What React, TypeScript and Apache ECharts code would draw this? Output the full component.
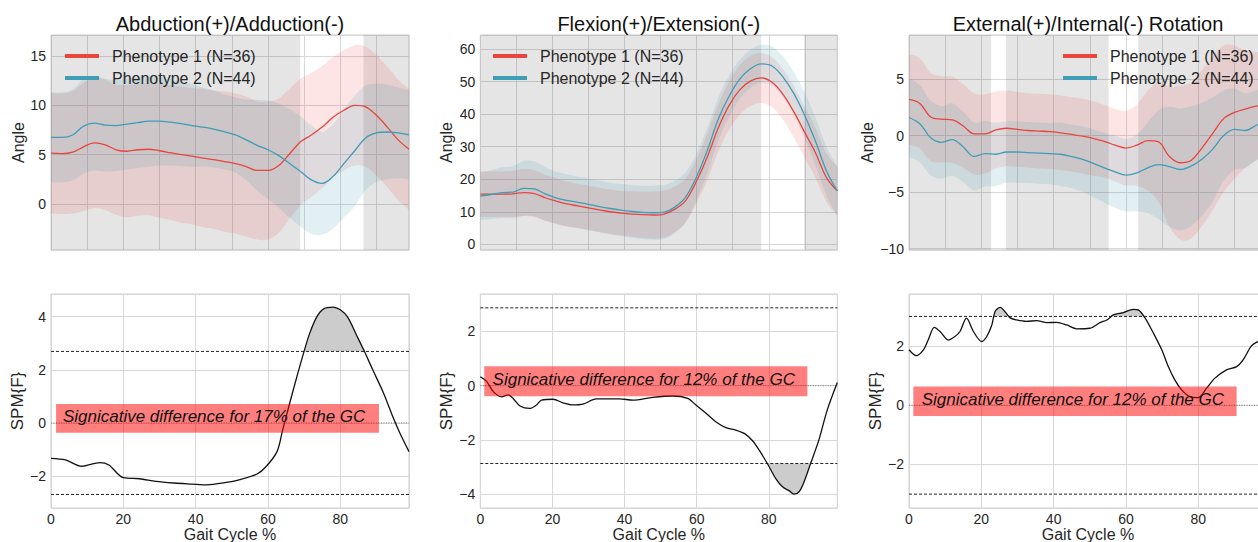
import React, { useEffect, useRef } from "react";
import * as echarts from "echarts";

const FONT = "'Liberation Sans', Arial, Helvetica, sans-serif";
const INK = "#262626";
const RED = "#e8453f";
const BLUE = "#3f9db5";
const RED_BAND = "rgba(232,69,63,0.14)";
const BLUE_BAND = "rgba(62,157,180,0.15)";
const GREY = "rgba(0,0,0,0.1)";

// ---------------- data ----------------
const groupNames = ["Phenotype 1 (N=36)", "Phenotype 2 (N=44)"];
const panelTitles = [
  "Abduction(+)/Adduction(-)",
  "Flexion(+)/Extension(-)",
  "External(+)/Internal(-) Rotation",
];
const sigNotes = [
  "Signicative difference for 17% of the GC",
  "Signicative difference for 12% of the GC",
  "Signicative difference for 12% of the GC",
];

const gaitCycle = [0, 3, 6, 9, 12, 15, 18, 21, 24, 27, 30, 33, 36, 39, 42, 45, 48, 51, 54, 57, 60, 63, 66, 69, 72, 75, 78, 81, 84, 87, 90, 93, 96, 99];

// Abduction / Adduction
const abdRedMean = [5.15, 5.1, 5.25, 5.8, 6.2, 6.0, 5.5, 5.35, 5.5, 5.55, 5.4, 5.2, 5.0, 4.85, 4.65, 4.5, 4.3, 4.1, 3.8, 3.4, 3.4, 3.9, 5.1, 6.3, 7.0, 7.8, 8.8, 9.5, 10.0, 9.85, 9.0, 7.8, 6.5, 5.55];
const abdRedSd = [6.1, 6.1, 6.2, 6.5, 6.6, 6.6, 6.6, 6.7, 6.7, 6.7, 6.8, 6.8, 6.9, 6.9, 7.0, 7.0, 7.1, 7.1, 7.1, 7.0, 7.0, 6.8, 6.6, 6.4, 6.3, 6.2, 6.1, 6.1, 6.1, 6.1, 6.1, 6.1, 6.1, 6.15];
const abdBlueMean = [6.75, 6.75, 7.0, 7.9, 8.2, 8.0, 7.95, 8.1, 8.25, 8.4, 8.4, 8.3, 8.15, 7.95, 7.8, 7.6, 7.3, 7.0, 6.5, 5.95, 5.5, 4.9, 4.1, 3.3, 2.45, 2.1, 2.8, 4.1, 5.4, 6.7, 7.2, 7.3, 7.2, 7.0];
const abdBlueSd = [4.55, 4.55, 4.6, 4.8, 4.8, 4.7, 4.6, 4.6, 4.6, 4.6, 4.5, 4.4, 4.3, 4.2, 4.0, 3.9, 3.8, 3.8, 4.1, 4.6, 5.0, 5.3, 5.5, 5.6, 5.5, 5.2, 5.3, 5.5, 5.6, 5.3, 5.0, 4.8, 4.6, 4.5];
const abdSigRanges = [[68.9, 86.4]];
const abdSpmX = [0, 4, 8.5, 13.5, 16, 20, 24.5, 29, 34, 39, 43, 48.5, 52, 57, 59.5, 62.5, 64, 66, 68, 70, 71.5, 73.5, 75.5, 78, 80, 82, 84.5, 86.5, 89, 92, 94.5, 96.5, 99];
const abdSpmF = [-1.33, -1.39, -1.63, -1.49, -1.58, -2.06, -2.1, -2.2, -2.26, -2.3, -2.33, -2.24, -2.14, -1.92, -1.64, -1.08, -0.3, 0.74, 1.74, 2.7, 3.36, 3.99, 4.3, 4.36, 4.26, 3.99, 3.3, 2.74, 1.99, 1.11, 0.24, -0.39, -1.08];
const abdThreshold = 2.69;

// Flexion / Extension
const flexRedMean = [15.4, 15.4, 15.4, 15.5, 15.9, 15.6, 14.3, 13.3, 12.4, 11.8, 11.2, 10.6, 10.0, 9.6, 9.3, 9.1, 9.0, 9.3, 10.8, 13.5, 19.5, 27, 35.8, 42.7, 47.5, 50.2, 51.1, 49.7, 46, 40.6, 34.3, 28, 20.5, 16.4];
const flexRedSd = [7.0, 7.0, 7.0, 7.1, 7.2, 7.2, 7.1, 7.0, 6.9, 6.8, 6.8, 6.8, 6.8, 6.8, 7.0, 7.1, 7.2, 7.2, 7.0, 6.8, 6.8, 7.0, 7.2, 7.4, 7.6, 7.7, 7.7, 7.7, 7.8, 7.9, 7.8, 7.6, 7.5, 7.5];
const flexBlueMean = [14.8, 15.3, 15.9, 16.0, 17.2, 17.0, 15.5, 14.3, 13.5, 12.9, 12.3, 11.6, 11.0, 10.5, 10.1, 9.8, 9.7, 9.9, 11.5, 14.6, 20.8, 29, 38.5, 45.5, 50.8, 54, 55.4, 54.7, 51.3, 46.2, 39.5, 31.5, 22.5, 16.4];
const flexBlueSd = [7.3, 7.5, 7.8, 8.0, 8.4, 8.4, 8.2, 8.0, 8.0, 7.9, 7.9, 7.9, 7.9, 8.0, 8.1, 8.2, 8.3, 8.3, 8.0, 7.6, 7.2, 6.9, 6.6, 6.3, 6.0, 5.8, 5.8, 6.0, 6.3, 6.6, 7.0, 7.3, 7.5, 7.6];
const flexSigRanges = [[77.9, 89.8]];
const flexSpmX = [0, 1.8, 3.6, 5.9, 7.7, 9.1, 11, 13.7, 15.5, 17, 20.2, 22.9, 25.7, 28.5, 32.2, 38.6, 42.3, 47.8, 53.4, 57.5, 59.8, 62.6, 65.3, 68.1, 70.9, 73.2, 75.5, 77.3, 79.6, 81.9, 83.8, 85.6, 87, 88.4, 89.8, 91.6, 93.9, 96.2, 99];
const flexSpmF = [0.33, 0.15, -0.22, -0.41, -0.34, -0.47, -0.75, -0.84, -0.72, -0.53, -0.5, -0.63, -0.71, -0.68, -0.49, -0.49, -0.53, -0.43, -0.38, -0.47, -0.71, -1.02, -1.33, -1.55, -1.64, -1.76, -2.03, -2.37, -2.87, -3.42, -3.73, -3.87, -4.0, -3.91, -3.54, -2.87, -2.0, -0.9, 0.12];
const flexThreshold = 2.87;

// External / Internal rotation
const rotRedMean = [3.2, 2.85, 1.65, 1.45, 1.4, 0.85, 0.15, 0.15, 0.5, 0.65, 0.55, 0.45, 0.4, 0.35, 0.25, 0.1, -0.05, -0.25, -0.5, -0.85, -1.1, -0.85, -0.45, -0.56, -1.85, -2.4, -2.2, -1.1, 0.2, 1.5, 2.05, 2.35, 2.6, 2.75];
const rotRedSd = [4.0, 4.0, 3.9, 3.8, 3.8, 3.7, 3.6, 3.5, 3.4, 3.35, 3.3, 3.3, 3.3, 3.3, 3.3, 3.3, 3.3, 3.3, 3.2, 3.2, 3.3, 3.6, 4.4, 5.3, 6.2, 6.8, 6.9, 6.9, 6.8, 6.5, 5.9, 5.2, 4.8, 4.6];
const rotBlueMean = [1.6, 1.05, -0.2, -0.6, -0.35, -1.0, -1.85, -1.6, -1.65, -1.45, -1.45, -1.5, -1.55, -1.6, -1.65, -1.85, -2.1, -2.45, -2.85, -3.2, -3.5, -3.3, -2.85, -2.57, -2.75, -3.0, -2.7, -2.1, -1.2, 0.0, 0.55, 0.45, 0.9, 1.3];
const rotBlueSd = [3.5, 3.4, 3.3, 3.2, 3.2, 3.1, 3.0, 2.9, 2.8, 2.7, 2.7, 2.7, 2.7, 2.7, 2.8, 2.8, 2.9, 3.0, 3.1, 3.2, 3.2, 3.4, 4.0, 4.8, 5.3, 5.4, 5.3, 5.0, 4.6, 4.0, 3.6, 3.3, 3.1, 3.0];
const rotSigRanges = [[22.7, 26.8], [55.2, 63.4]];
const rotSpmX = [0, 2, 4, 5.3, 7, 8.6, 10.9, 12.7, 14.1, 15.9, 17.8, 20.1, 21.5, 22.9, 23.8, 25.2, 27.9, 29.8, 32.5, 35.3, 38.1, 40.8, 43.6, 46.4, 50, 52.8, 54.7, 56.5, 59.3, 62, 63.4, 65.3, 67.6, 69.9, 71.7, 73.5, 75.4, 77.7, 80, 82.3, 84.6, 87.8, 90.6, 92.4, 94.7, 96.5, 99];
const rotSpmF = [1.88, 1.68, 1.88, 2.21, 2.64, 2.5, 2.21, 2.33, 2.5, 2.95, 2.5, 2.16, 2.33, 2.72, 3.18, 3.32, 2.97, 2.89, 2.84, 2.87, 2.8, 2.81, 2.72, 2.59, 2.61, 2.8, 2.89, 3.06, 3.14, 3.25, 3.23, 2.95, 2.44, 1.88, 1.31, 0.86, 0.52, 0.29, 0.26, 0.58, 0.92, 1.2, 1.31, 1.54, 2.01, 2.16, 2.3];
const rotThreshold = 3.01;

const panels = [
  { redMean: abdRedMean, redSd: abdRedSd, blueMean: abdBlueMean, blueSd: abdBlueSd, sig: abdSigRanges, spmX: abdSpmX, spmF: abdSpmF, thr: abdThreshold },
  { redMean: flexRedMean, redSd: flexRedSd, blueMean: flexBlueMean, blueSd: flexBlueSd, sig: flexSigRanges, spmX: flexSpmX, spmF: flexSpmF, thr: flexThreshold },
  { redMean: rotRedMean, redSd: rotRedSd, blueMean: rotBlueMean, blueSd: rotBlueSd, sig: rotSigRanges, spmX: rotSpmX, spmF: rotSpmF, thr: rotThreshold },
];

// ---------------- layout ----------------
const X_MAX = 99;
const LEFTS = [51, 480.3, 909];
const WIDTHS = [358, 357, 358];
const TOP_Y = 35;
const TOP_H = 215;
const BOT_Y = 294;
const BOT_H = 214;
const TOP_RANGE = [[-4.66, 17.13], [-1.75, 64.3], [-10.12, 8.9]];
const TOP_SPLIT = [4, 6, 4];
const BOT_RANGE = [[-3.2, 4.85], [-4.51, 3.38], [-3.48, 3.77]];
const LEGEND_LEFT = [65, 493, 1063];
const ANGLE_GAP = [24, 25.5, 34];
const SPM_GAP = [23.5, 24, 25];
const NOTE_BOX = [[1.4, -0.37, 90.7, 0.71], [1.1, -0.39, 90.7, 0.72], [1.2, -0.36, 90.6, 0.64]];
const NOTE_TEXT_AT = [[3.3, 0.24], [3.4, 0.21], [3.5, 0.19]];

function complement(sig: number[][]) {
  const out: number[][] = [];
  let s = 0;
  for (const [a, b] of sig) {
    if (a > s) out.push([s, a]);
    s = b;
  }
  if (s < X_MAX) out.push([s, X_MAX]);
  return out;
}

function curveThrough(p: number[][]) {
  let d = "";
  for (let i = 0; i < p.length - 1; i++) {
    const p0 = p[i - 1] || p[i];
    const p1 = p[i];
    const p2 = p[i + 1];
    const p3 = p[i + 2] || p[i + 1];
    const c1x = p1[0] + (p2[0] - p0[0]) / 6;
    const c1y = p1[1] + (p2[1] - p0[1]) / 6;
    const c2x = p2[0] - (p3[0] - p1[0]) / 6;
    const c2y = p2[1] - (p3[1] - p1[1]) / 6;
    d += `C${c1x},${c1y} ${c2x},${c2y} ${p2[0]},${p2[1]}`;
  }
  return d;
}

function exceedSegments(xs: number[], fs: number[], thr: number) {
  const segs: { lvl: number; pts: number[][] }[] = [];
  let cur: number[][] | null = null;
  let lvl = thr;
  for (let i = 0; i < xs.length; i++) {
    const f = fs[i];
    const out = Math.abs(f) > thr;
    if (out) {
      if (!cur) {
        cur = [];
        lvl = f > 0 ? thr : -thr;
        if (i > 0) {
          const t = (lvl - fs[i - 1]) / (f - fs[i - 1]);
          cur.push([xs[i - 1] + t * (xs[i] - xs[i - 1]), lvl]);
        }
      }
      cur.push([xs[i], f]);
    } else if (cur) {
      const t = (lvl - fs[i - 1]) / (f - fs[i - 1]);
      cur.push([xs[i - 1] + t * (xs[i] - xs[i - 1]), lvl]);
      segs.push({ lvl, pts: cur });
      cur = null;
    }
  }
  if (cur) segs.push({ lvl, pts: cur });
  return segs;
}

const minusFmt = (v: number) => String(v).replace("-", "\u2212");

function buildOption() {
  const grid: any[] = [];
  const xAxis: any[] = [];
  const yAxis: any[] = [];
  const series: any[] = [];
  const legend: any[] = [];
  const graphic: any[] = [];

  const splitLine = { show: true, lineStyle: { color: "#d8d8d8", width: 1 } };
  const gridBase = { show: true, borderColor: "#cccccc", borderWidth: 1, containLabel: false, outerBoundsMode: "none" };

  for (let i = 0; i < 3; i++) {
    grid.push({ ...gridBase, left: LEFTS[i], top: TOP_Y, width: WIDTHS[i], height: TOP_H });
  }
  for (let i = 0; i < 3; i++) {
    grid.push({ ...gridBase, left: LEFTS[i], top: BOT_Y, width: WIDTHS[i], height: BOT_H });
  }

  for (let i = 0; i < 3; i++) {
    xAxis.push({
      gridIndex: i, type: "value", min: 0, max: X_MAX, interval: 10,
      axisLine: { show: false }, axisTick: { show: false }, axisLabel: { show: false }, splitLine,
    });
    yAxis.push({
      gridIndex: i, type: "value", min: TOP_RANGE[i][0], max: TOP_RANGE[i][1], splitNumber: TOP_SPLIT[i],
      axisLine: { show: false }, axisTick: { show: false },
      axisLabel: { fontSize: 14, color: INK, margin: 5, showMinLabel: false, showMaxLabel: false, formatter: minusFmt, fontFamily: FONT },
      splitLine,
      name: "Angle", nameLocation: "middle", nameGap: ANGLE_GAP[i],
      nameTextStyle: { fontSize: 16, color: INK, fontFamily: FONT },
    });
  }
  for (let i = 0; i < 3; i++) {
    xAxis.push({
      gridIndex: i + 3, type: "value", min: 0, max: X_MAX, interval: 20,
      axisLine: { show: false }, axisTick: { show: false },
      axisLabel: { fontSize: 14, color: INK, margin: 4, showMaxLabel: false, fontFamily: FONT },
      splitLine,
      name: "Gait Cycle %", nameLocation: "middle", nameGap: 17.5,
      nameTextStyle: { fontSize: 16, color: INK, fontFamily: FONT },
    });
    yAxis.push({
      gridIndex: i + 3, type: "value", min: BOT_RANGE[i][0], max: BOT_RANGE[i][1], splitNumber: 4,
      axisLine: { show: false }, axisTick: { show: false },
      axisLabel: { fontSize: 14, color: INK, margin: 5, showMinLabel: false, showMaxLabel: false, formatter: minusFmt, fontFamily: FONT },
      splitLine,
      name: "SPM{F}", nameLocation: "middle", nameGap: SPM_GAP[i],
      nameTextStyle: { fontSize: 17, color: INK, fontFamily: FONT },
    });
  }

  panels.forEach((p, i) => {
    const yMin = TOP_RANGE[i][0];
    const yMax = TOP_RANGE[i][1];
    // grey = not significant
    series.push({
      type: "custom", xAxisIndex: i, yAxisIndex: i, z: 1, silent: true, clip: true,
      data: complement(p.sig),
      renderItem: (_params: any, api: any) => {
        const a = api.coord([api.value(0), yMax]);
        const b = api.coord([api.value(1), yMin]);
        return { type: "rect", shape: { x: a[0], y: a[1], width: b[0] - a[0], height: b[1] - a[1] }, style: { fill: GREY } };
      },
    });
    const band = (mean: number[], sd: number[], fill: string) => ({
      type: "custom", xAxisIndex: i, yAxisIndex: i, z: 2, silent: true, clip: true,
      data: [[gaitCycle[0], mean[0]]],
      renderItem: (_params: any, api: any) => {
        const up = gaitCycle.map((x, k) => api.coord([x, mean[k] + sd[k]]));
        const lo = gaitCycle.map((x, k) => api.coord([x, mean[k] - sd[k]])).reverse();
        const d = `M${up[0][0]},${up[0][1]}` + curveThrough(up) + `L${lo[0][0]},${lo[0][1]}` + curveThrough(lo) + "Z";
        return { type: "path", shape: { pathData: d }, style: { fill } };
      },
    });
    series.push(band(p.redMean, p.redSd, RED_BAND));
    series.push(band(p.blueMean, p.blueSd, BLUE_BAND));
    series.push({
      name: groupNames[0], type: "line", xAxisIndex: i, yAxisIndex: i, z: 3, silent: true,
      symbol: "none", smooth: 0.35, color: RED, lineStyle: { color: RED, width: 1.3 },
      data: gaitCycle.map((x, k) => [x, p.redMean[k]]),
    });
    series.push({
      name: groupNames[1], type: "line", xAxisIndex: i, yAxisIndex: i, z: 3, silent: true,
      symbol: "none", smooth: 0.35, color: BLUE, lineStyle: { color: BLUE, width: 1.3 },
      data: gaitCycle.map((x, k) => [x, p.blueMean[k]]),
    });

    // bottom SPM panel
    const bi = i + 3;
    exceedSegments(p.spmX, p.spmF, p.thr).forEach((seg) => {
      series.push({
        type: "line", xAxisIndex: bi, yAxisIndex: bi, z: 2, silent: true, symbol: "none", smooth: 0.3,
        lineStyle: { width: 0, opacity: 0 },
        areaStyle: { color: "#cccccc", opacity: 1, origin: seg.lvl },
        data: seg.pts,
      });
    });
    [p.thr, -p.thr].forEach((t) => {
      series.push({
        type: "line", xAxisIndex: bi, yAxisIndex: bi, z: 3, silent: true, symbol: "none",
        lineStyle: { color: "#222222", width: 1, type: [3, 2] },
        data: [[0, t], [X_MAX, t]],
      });
    });
    series.push({
      type: "line", xAxisIndex: bi, yAxisIndex: bi, z: 3, silent: true, symbol: "none",
      lineStyle: { color: "#777777", width: 1, type: [1, 1.5] },
      data: [[0, 0], [X_MAX, 0]],
    });
    series.push({
      type: "line", xAxisIndex: bi, yAxisIndex: bi, z: 4, silent: true, symbol: "none", smooth: 0.3,
      lineStyle: { color: "#111111", width: 1.3 },
      data: p.spmX.map((x, k) => [x, p.spmF[k]]),
    });
    const box = NOTE_BOX[i];
    const at = NOTE_TEXT_AT[i];
    series.push({
      type: "custom", xAxisIndex: bi, yAxisIndex: bi, z: 10, silent: true, clip: false,
      data: [[box[0], box[1], box[2], box[3]]],
      renderItem: (_params: any, api: any) => {
        const a = api.coord([box[0], box[3]]);
        const b = api.coord([box[2], box[1]]);
        const t = api.coord([at[0], at[1]]);
        return {
          type: "group",
          children: [
            { type: "rect", shape: { x: a[0], y: a[1], width: b[0] - a[0], height: b[1] - a[1] }, style: { fill: "rgba(255,0,0,0.5)" } },
            {
              type: "text", x: t[0], y: t[1],
              style: { text: sigNotes[i], fontSize: 17, fontStyle: "italic", fontFamily: FONT, fill: "#111111", align: "left", verticalAlign: "middle" },
            },
          ],
        };
      },
    });

    legend.push({
      orient: "vertical", left: LEGEND_LEFT[i], top: 48, padding: 0,
      itemWidth: 34, itemHeight: 4, itemGap: 6, icon: "rect", selectedMode: false,
      data: [
        { name: groupNames[0], itemStyle: { color: RED } },
        { name: groupNames[1], itemStyle: { color: BLUE } },
      ],
      textStyle: { fontSize: 16, color: INK, fontFamily: FONT, padding: [0, 0, 0, 8] },
    });

    graphic.push({
      type: "text", x: LEFTS[i] + WIDTHS[i] / 2, y: 24, silent: true,
      style: { text: panelTitles[i], fontSize: 20, fontFamily: FONT, fill: "#111111", align: "center", verticalAlign: "middle" },
    });
  });

  return {
    animation: false,
    backgroundColor: "#ffffff",
    textStyle: { fontFamily: FONT },
    grid, xAxis, yAxis, series, legend, graphic,
  };
}

export default function App() {
  const ref = useRef<HTMLDivElement>(null);
  useEffect(() => {
    if (!ref.current) return;
    const chart = echarts.init(ref.current, undefined, { renderer: "svg" });
    chart.setOption(buildOption() as any);
    return () => chart.dispose();
  }, []);
  return <div ref={ref} style={{ position: "fixed", left: 0, top: 0, width: 1258, height: 542 }} />;
}
